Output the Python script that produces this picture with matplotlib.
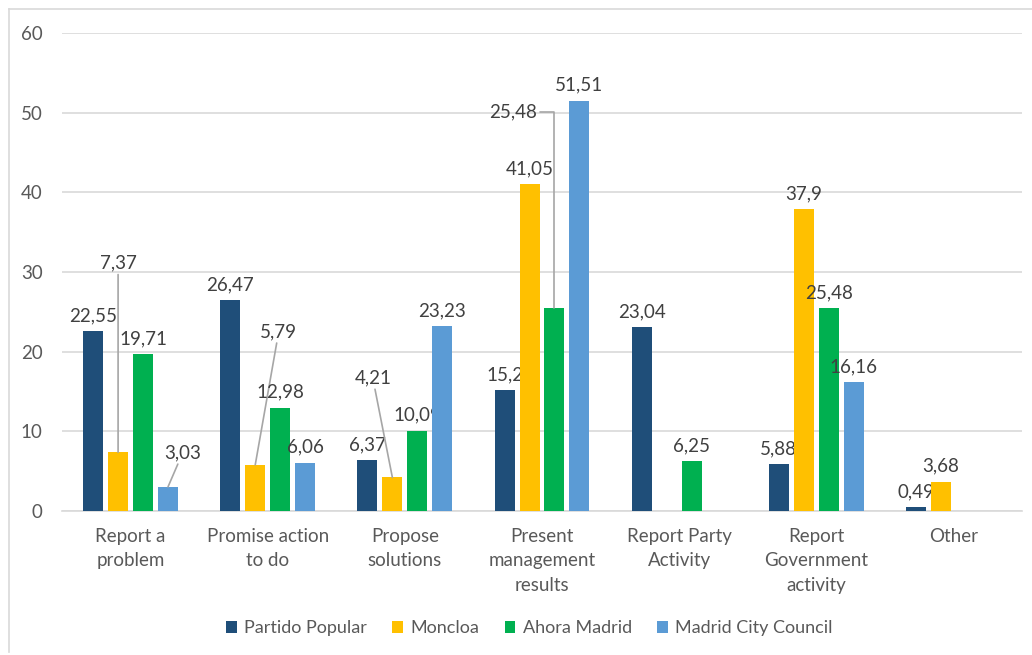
import numpy as np
import matplotlib
matplotlib.use("Agg")
import matplotlib.pyplot as plt
from matplotlib.lines import Line2D

plt.rcParams["font.family"] = ["Lato", "DejaVu Sans"]

# data
categories = ["Report a\nproblem", "Promise action\nto do", "Propose\nsolutions",
              "Present\nmanagement\nresults", "Report Party\nActivity",
              "Report\nGovernment\nactivity", "Other"]
series = ["Partido Popular", "Moncloa", "Ahora Madrid", "Madrid City Council"]
partido_popular = [22.55, 26.47, 6.37, 15.2, 23.04, 5.88, 0.49]
moncloa = [7.37, 5.79, 4.21, 41.05, np.nan, 37.9, 3.68]
ahora_madrid = [19.71, 12.98, 10.09, 25.48, 6.25, 25.48, np.nan]
madrid_city = [3.03, 6.06, 23.23, 51.51, np.nan, 16.16, np.nan]
values = [partido_popular, moncloa, ahora_madrid, madrid_city]
colors = ["#1F4E79", "#FFC000", "#00B050", "#5B9BD5"]

# labels moved away from their bar (series, category) -> label position
moved = {(1, 0): (0.0 - 0.091, 31.1),
         (1, 1): (1.08, 22.5),
         (1, 2): (1.766, 16.7),
         (3, 0): (0.38, 7.3)}

fig = plt.figure(figsize=(10.32, 6.55), dpi=100)
ax = fig.add_axes([62 / 1032, 144 / 655, 960 / 1032, 478 / 655])

x = np.arange(len(categories))
step = 0.182
width = 0.146
txt = "#404040"
fs = 13.5

for i, (name, vals, c) in enumerate(zip(series, values, colors)):
    pos = x + (i - 1.5) * step
    ax.bar(pos, vals, width, color=c, label=name, zorder=3)
    for j, v in enumerate(vals):
        if np.isnan(v):
            continue
        s = f"{v:g}".replace(".", ",")
        if (i, j) in moved:
            ax.annotate(s, xy=(pos[j], v), xytext=moved[(i, j)], textcoords="data",
                        ha="center", va="center", fontsize=fs, color=txt,
                        arrowprops=dict(arrowstyle="-", color="#a6a6a6", lw=1.2,
                                        shrinkA=0, shrinkB=0))
        elif (i, j) == (2, 3):
            ax.annotate(s, xy=(pos[j], v), xytext=(pos[j] - 0.125, 50.05),
                        textcoords="data", ha="right", va="center", fontsize=fs,
                        color=txt,
                        arrowprops=dict(arrowstyle="-", color="#a6a6a6", lw=1.2,
                                        shrinkA=0, shrinkB=0, relpos=(1, 0.5),
                                        connectionstyle="angle,angleA=0,angleB=90,rad=0"))
        else:
            ax.annotate(s, xy=(pos[j], v), xytext=(0, 5), textcoords="offset points",
                        ha="center", va="bottom", fontsize=fs, color=txt)

ax.set_xlim(-0.5, len(categories) - 0.5)
ax.set_ylim(0, 60)
ax.set_yticks(range(0, 61, 10))
ax.set_xticks(x)
ax.set_xticklabels(categories, linespacing=1.55)
ax.tick_params(axis="both", length=0, labelsize=fs, labelcolor="#595959")
ax.tick_params(axis="x", pad=12)
ax.tick_params(axis="y", pad=14)
ax.grid(axis="y", color="#d9d9d9", lw=1.2, zorder=0)
for sp in ["left", "right", "top"]:
    ax.spines[sp].set_visible(False)
ax.spines["bottom"].set_color("#d9d9d9")
ax.spines["bottom"].set_linewidth(1.2)

fig.legend(loc="center", bbox_to_anchor=(0.513, 0.041), ncol=4, frameon=False,
           fontsize=13, handlelength=0.6, handleheight=0.6, handletextpad=0.4,
           columnspacing=1.4, labelcolor="#595959")

# outer frame (top and left edges)
fig.add_artist(Line2D([9 / 1032, 9 / 1032], [3 / 655, 646 / 655], color="#d9d9d9", lw=1.2))
fig.add_artist(Line2D([9 / 1032, 1.0], [646 / 655, 646 / 655], color="#d9d9d9", lw=1.2))

fig.savefig("out.png", dpi=100)
